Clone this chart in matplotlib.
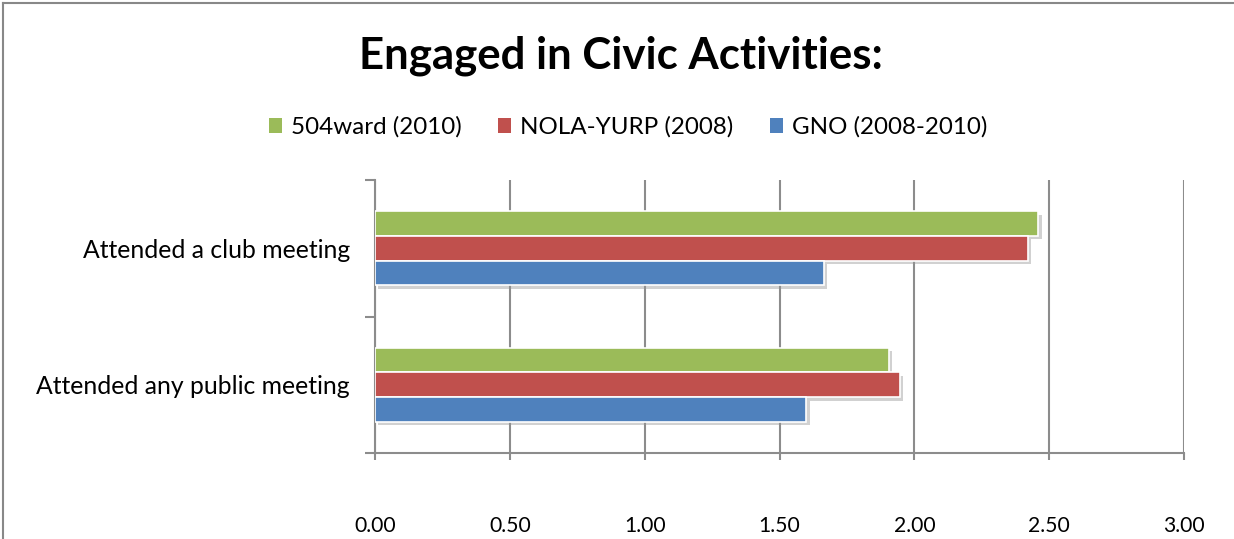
import numpy as np
import matplotlib.pyplot as plt
import matplotlib.patheffects as pe
from matplotlib.lines import Line2D
from matplotlib.patches import Patch

plt.rcParams['font.family'] = ['Lato', 'DejaVu Sans']

# data
categories = ["Attended any public meeting", "Attended a club meeting"]
series = ["504ward (2010)", "NOLA-YURP (2008)", "GNO (2008-2010)"]
ward504 = [1.905, 2.46]
nola_yurp = [1.945, 2.42]
gno = [1.60, 1.665]
colors = ["#9BBB59", "#C0504D", "#4F81BD"]
xticks = [0.0, 0.5, 1.0, 1.5, 2.0, 2.5, 3.0]

fig = plt.figure(figsize=(12.34, 5.39), dpi=100)
ax = fig.add_axes([375/1234, 1-453/539, (1184-375)/1234, (453-180)/539])

y = np.arange(len(categories))
h = 0.18
shadow = [pe.SimplePatchShadow(offset=(2.5, -2.5), shadow_rgbFace='#999999', alpha=0.45), pe.Normal()]
for i, (vals, name, c) in enumerate(zip([ward504, nola_yurp, gno], series, colors)):
    bars = ax.barh(y + (1 - i)*h, vals, height=h, color=c, edgecolor='white',
                   linewidth=1.2, zorder=3)
    for b in bars:
        b.set_path_effects(shadow)

ax.set_xlim(0, 3.0)
ax.set_ylim(-0.5, 1.5)
ax.set_xticks(xticks)
ax.set_xticklabels([f"{v:.2f}" for v in xticks], fontsize=15.2)
ax.set_yticks(y)
ax.set_yticklabels(categories, fontsize=17.8)
ax.set_yticks([-0.5, 0.5, 1.5], minor=True)
ax.tick_params(axis='y', which='major', length=0, pad=18)
ax.tick_params(axis='y', which='minor', length=7, width=1.5, color='#8c8c8c')
ax.tick_params(axis='x', length=5, width=1.5, color='#8c8c8c', pad=40)
ax.grid(axis='x', color='#8c8c8c', linewidth=1.5, zorder=0)
for s in ['top', 'right']:
    ax.spines[s].set_visible(False)
for s in ['left', 'bottom']:
    ax.spines[s].set_color('#8c8c8c')
    ax.spines[s].set_linewidth(1.5)

fig.text(0.503, 0.897, "Engaged in Civic Activities:", ha='center', va='center',
         fontsize=31.5, fontweight='bold')

handles = [Patch(facecolor=c, edgecolor='none') for c in colors]
fig.legend(handles, series, loc='center', bbox_to_anchor=(0.509, 0.764), ncol=3,
           frameon=False, fontsize=17.4, handlelength=0.54, handleheight=0.54,
           handletextpad=0.37, columnspacing=1.5)

# outer chart border (only top and left visible)
fig.add_artist(Line2D([0.0025, 0.0025], [0, 0.9945], color='#888888', lw=1.5))
fig.add_artist(Line2D([0.0025, 1], [0.9945, 0.9945], color='#888888', lw=1.5))

fig.savefig("out.png", dpi=100)
